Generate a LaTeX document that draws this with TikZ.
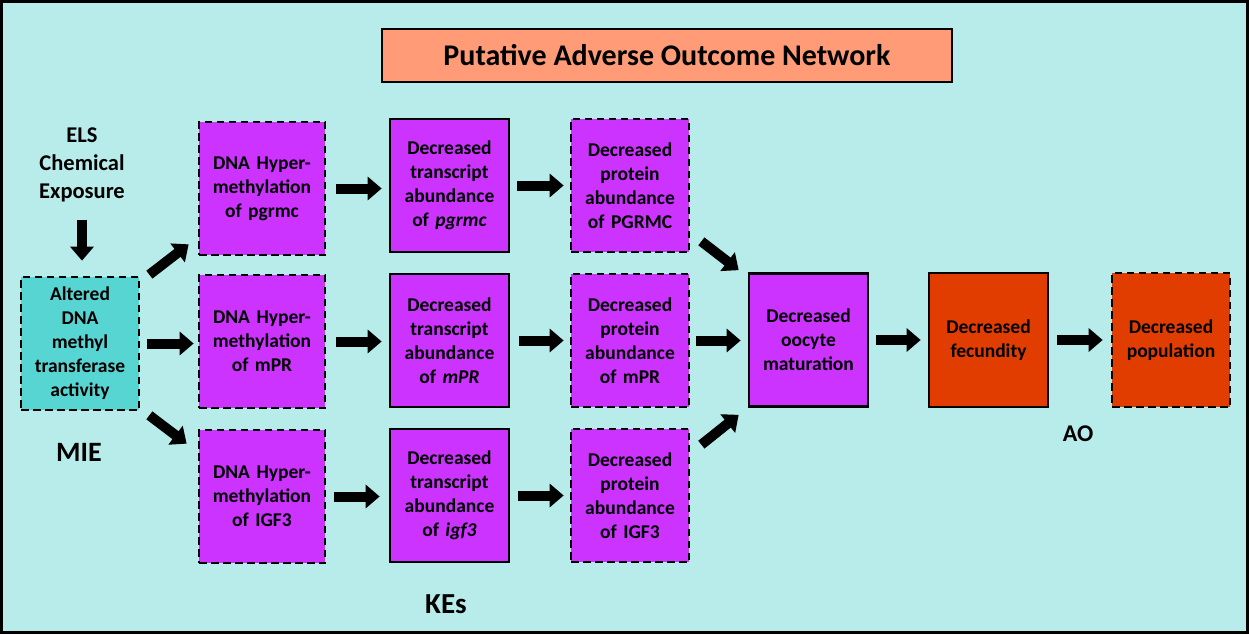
\documentclass[tikz,border=0pt]{standalone}
\usepackage{fontspec}
\setmainfont{Carlito}
\usetikzlibrary{arrows.meta}
\definecolor{bgc}{HTML}{B7ECEA}
\definecolor{purp}{HTML}{CC33FF}
\definecolor{teal2}{HTML}{57D5D2}
\definecolor{orng}{HTML}{E23D00}
\definecolor{salmon}{HTML}{FF9B77}
\tikzset{
  box/.style={draw=black, line width=2.7pt, minimum width=119pt, minimum height=133pt,
    align=center, inner sep=0pt, font=\fontsize{19.5}{24}\selectfont\bfseries, text width=115pt},
  dbox/.style={box, dash pattern=on 7.5pt off 4.5pt},
  bigarrow/.style={line width=10pt, -{Triangle[length=14pt,width=23pt]}},
  lbl/.style={font=\fontsize{28}{32}\selectfont\bfseries, inner sep=0pt},
}
\begin{document}
\begin{tikzpicture}[x=1pt,y=-1pt]
\useasboundingbox (0,0) rectangle (1249,634);
\fill[bgc] (0,0) rectangle (1249,634);
\draw[line width=3pt] (1.5,1.5) rectangle (1247.5,632.5);
\node[draw=black, line width=2.7pt, fill=salmon, minimum width=570pt, minimum height=53pt, inner sep=0pt,
  font=\fontsize{30}{34}\selectfont\bfseries] (title) at (667,55.5) {Putative Adverse Outcome Network};
\node[align=center, font=\fontsize{22.5}{28}\selectfont\bfseries] (els) at (82,165) {ELS\\Chemical\\Exposure};
\node[dbox, fill=teal2, minimum width=118pt, text width=114pt] (mie) at (80,343.5) {Altered\\DNA\\methyl\\transferase\\activity};
\node[dbox, fill=purp, minimum width=126pt] (d1) at (262,188.5) {DNA Hyper-\\methylation\\of pgrmc};
\node[dbox, fill=purp, minimum width=126pt] (d2) at (262,341.5) {DNA Hyper-\\methylation\\of mPR};
\node[dbox, fill=purp, minimum width=126pt] (d3) at (262,496.5) {DNA Hyper-\\methylation\\of IGF3};
\node[box, fill=purp] (t1) at (449.5,185.5) {Decreased\\transcript\\abundance\\of \textit{pgrmc}};
\node[box, fill=purp] (t2) at (449.5,340.5) {Decreased\\transcript\\abundance\\of \textit{mPR}};
\node[box, fill=purp] (t3) at (449.5,495.5) {Decreased\\transcript\\abundance\\of \textit{igf3}};
\node[dbox, fill=purp, minimum width=118pt] (p1) at (630,185.5) {Decreased\\protein\\abundance\\of PGRMC};
\node[dbox, fill=purp, minimum width=118pt] (p2) at (630,340.5) {Decreased\\protein\\abundance\\of mPR};
\node[dbox, fill=purp, minimum width=118pt] (p3) at (630,495.5) {Decreased\\protein\\abundance\\of IGF3};
\node[box, fill=purp] (oo) at (808.5,340) {Decreased\\oocyte\\maturation};
\node[box, fill=orng, minimum height=134pt] (fe) at (988.5,340) {Decreased\\fecundity};
\node[dbox, fill=orng, minimum width=118pt, minimum height=134pt] (po) at (1171,340) {Decreased\\population};
\node[lbl] (miel) at (79,452) {MIE};
\node[lbl, font=\fontsize{29}{32}\selectfont\bfseries] (kes) at (446,604) {KEs};
\node[lbl, font=\fontsize{24}{28}\selectfont\bfseries] (ao) at (1078,434) {AO};
% arrows
\draw[bigarrow] ([yshift=-14pt]els.south) -- ([yshift=15pt]mie.north -| els.south);
\draw[bigarrow] ([shift={(9,-1)}]mie.north east) -- ([shift={(-9,-12)}]d1.south west);
\draw[bigarrow] ([xshift=7pt]mie.east) -- ([xshift=-4pt]mie.east -| d2.west);
\draw[bigarrow] ([shift={(9,4)}]mie.south east) -- ([shift={(-11,15)}]d3.north west);
\draw[bigarrow] ([xshift=10pt]d1.east) -- ([xshift=-7pt]d1.east -| t1.west);
\draw[bigarrow] ([xshift=10pt]d2.east) -- ([xshift=-7pt]d2.east -| t2.west);
\draw[bigarrow] ([xshift=8pt]d3.east) -- ([xshift=-9pt]d3.east -| t3.west);
\draw[bigarrow] ([xshift=7pt]t1.east) -- ([xshift=-6pt]t1.east -| p1.west);
\draw[bigarrow] ([xshift=9pt]t2.east) -- ([xshift=-6pt]t2.east -| p2.west);
\draw[bigarrow] ([xshift=8pt]t3.east) -- ([xshift=-6pt]t3.east -| p3.west);
\draw[bigarrow] ([shift={(11,-12)}]p1.south east) -- ([shift={(-9,-2)}]oo.north west);
\draw[bigarrow] ([xshift=6pt]p2.east) -- ([xshift=-7pt]p2.east -| oo.west);
\draw[bigarrow] ([shift={(11,17)}]p3.north east) -- ([shift={(-9,7)}]oo.south west);
\draw[bigarrow] ([xshift=7pt]oo.east) -- ([xshift=-7pt]oo.east -| fe.west);
\draw[bigarrow] ([xshift=8pt]fe.east) -- ([xshift=-8pt]fe.east -| po.west);
\end{tikzpicture}
\end{document}
